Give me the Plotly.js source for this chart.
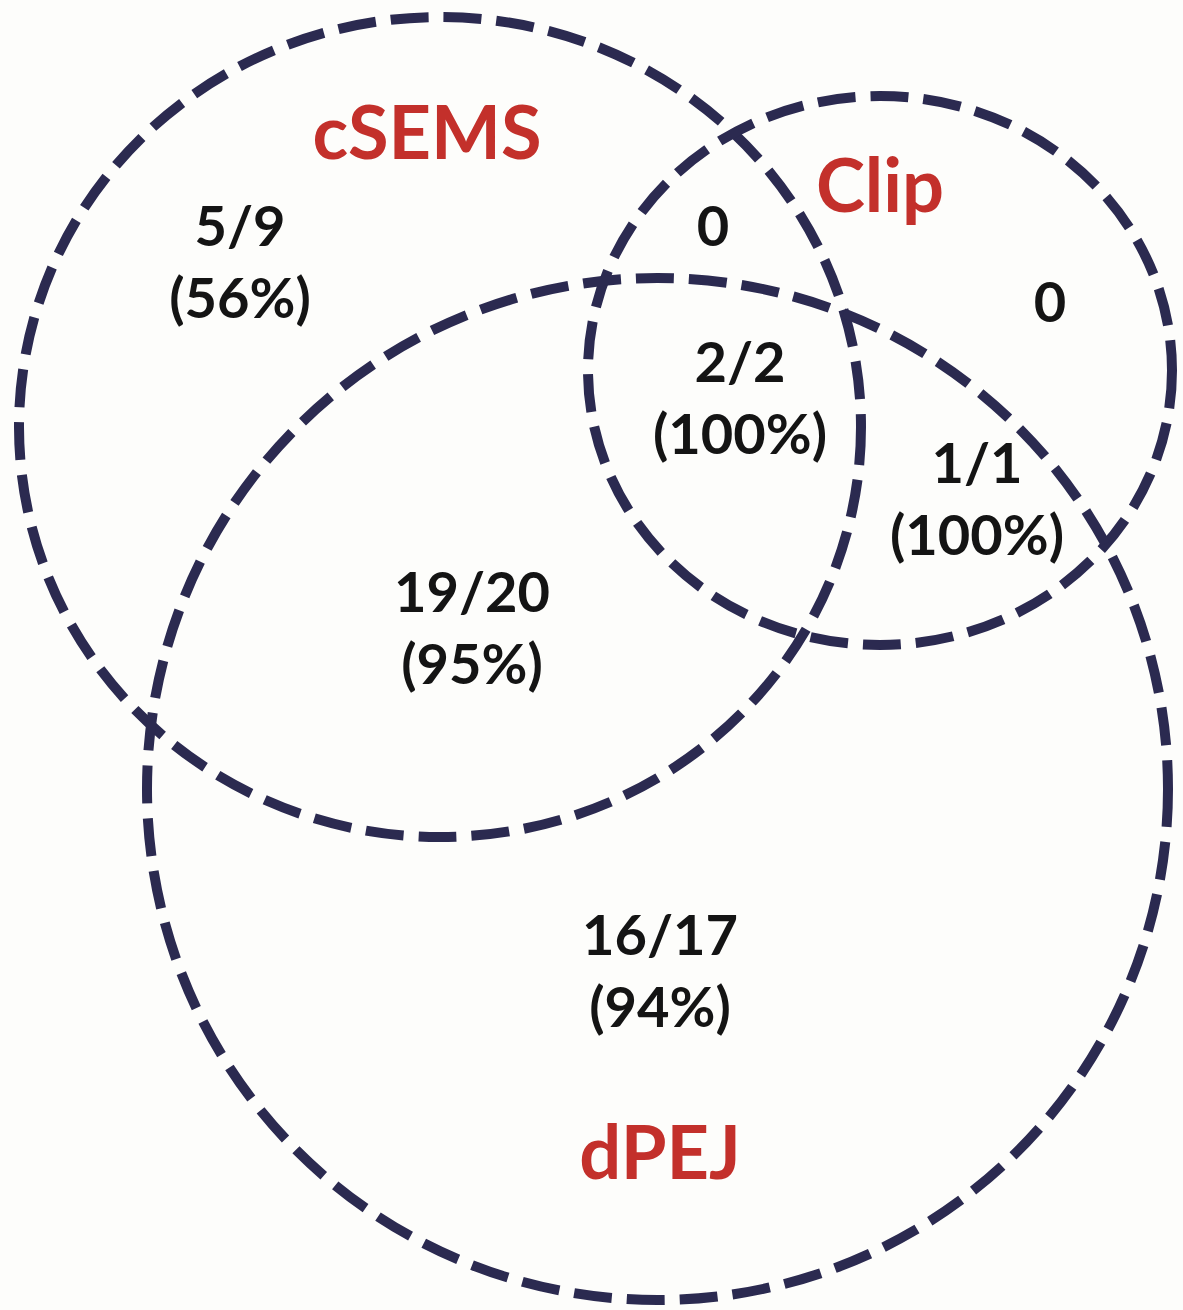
<!DOCTYPE html>
<html>
<head>
<meta charset="utf-8">
<script src="https://cdn.plot.ly/plotly-3.0.1.min.js"></script>
<style>
  html, body { margin: 0; padding: 0; background: #fdfdfb; }
  #chart { width: 1183px; height: 1310px; }
</style>
</head>
<body>
<div id="chart"></div>
<script>
// ---- Data ----
const setNames = ['cSEMS', 'Clip', 'dPEJ'];
const regionNames = ['cSEMS only', 'cSEMS ∩ Clip', 'Clip only', 'cSEMS ∩ Clip ∩ dPEJ', 'Clip ∩ dPEJ', 'cSEMS ∩ dPEJ', 'dPEJ only'];
const successes = [5, 0, 0, 2, 1, 19, 16];
const totals    = [9, 0, 0, 2, 1, 20, 17];
const percents  = [56, null, null, 100, 100, 95, 94];

// ---- Layout (positions in picture pixels) ----
const setLabelPos = { x: [427, 880, 660], y: [140, 193, 1160] };
const regionPos   = { x: [240, 713, 1050, 740, 977, 472, 660], y: [268, 232, 308, 404, 505, 634, 977] };
// ellipse boxes: [x0, x1, y0, y1]
const setShapes = [
  [19, 861, 17, 837],
  [588, 1172, 96, 645],
  [147, 1168, 278, 1300]
];

const lineColor = '#2b2a50';
const textFont = { family: 'Lato, "Open Sans", sans-serif', size: 56, color: '#141414', weight: 700 };
const labelFont = { family: 'Lato, "Open Sans", sans-serif', size: 74, color: '#c3302b', weight: 700 };

function regionText(i) {
  if (totals[i] === 0) return String(successes[i]);
  return successes[i] + '/' + totals[i] + '<br>(' + percents[i] + '%)';
}

const traces = [
  {
    type: 'scatter', mode: 'text',
    x: regionPos.x, y: regionPos.y,
    text: regionNames.map((_, i) => regionText(i)),
    textfont: textFont, textposition: 'middle center',
    hoverinfo: 'skip', showlegend: false
  },
  {
    type: 'scatter', mode: 'text',
    x: setLabelPos.x, y: setLabelPos.y,
    text: setNames,
    textfont: labelFont, textposition: 'middle center',
    hoverinfo: 'skip', showlegend: false
  }
];

const shapes = setShapes.map(s => ({
  type: 'circle', xref: 'x', yref: 'y',
  x0: s[0], x1: s[1], y0: s[2], y1: s[3],
  line: { color: lineColor, width: 10, dash: '38px,15px' },
  fillcolor: 'rgba(0,0,0,0)', layer: 'above'
}));

const layout = {
  width: 1183, height: 1310,
  margin: { l: 0, r: 0, t: 0, b: 0 },
  paper_bgcolor: '#fdfdfb', plot_bgcolor: '#fdfdfb',
  xaxis: { range: [0, 1183], visible: false, fixedrange: true },
  yaxis: { range: [1310, 0], visible: false, fixedrange: true },
  shapes: shapes,
  showlegend: false
};

Plotly.newPlot('chart', traces, layout, { staticPlot: true });
</script>
</body>
</html>
